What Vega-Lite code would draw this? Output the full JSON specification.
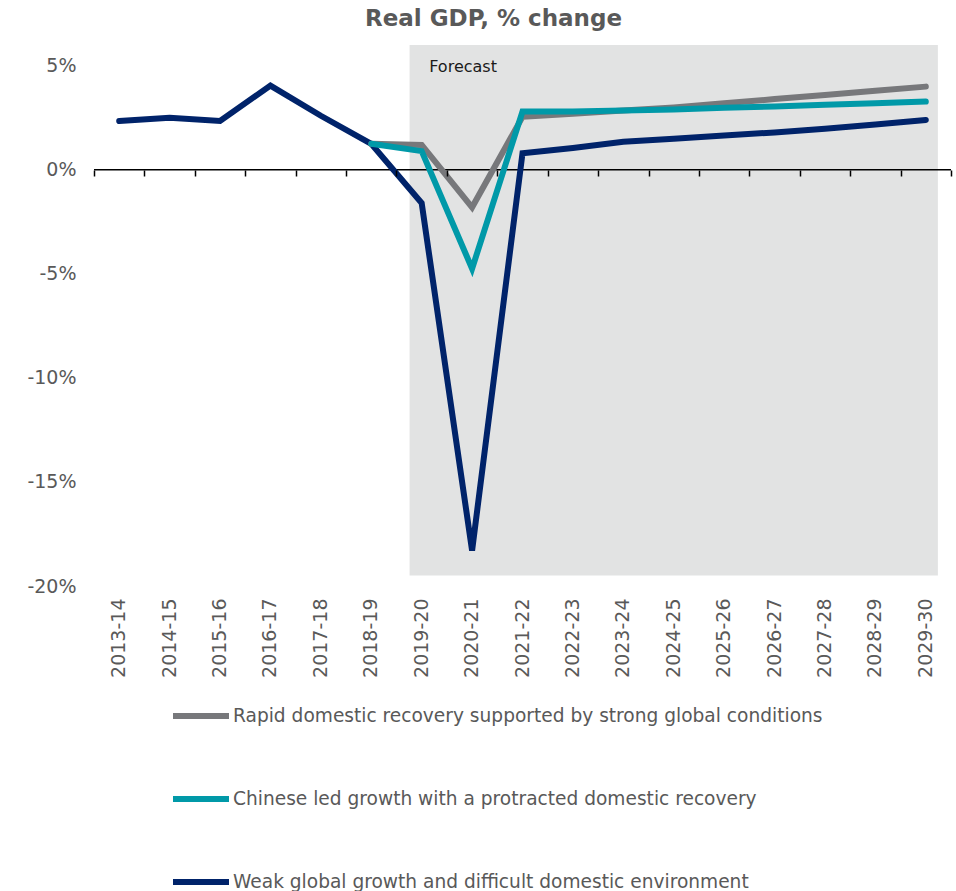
{
  "$schema": "https://vega.github.io/schema/vega-lite/v6.json",
  "autosize": {"type": "none"},
  "padding": {"left": 94, "top": 45, "right": 5, "bottom": 305},
  "width": 857,
  "height": 541,
  "background": "white",
  "config": {
    "font": "DejaVu Sans",
    "view": {"stroke": null},
    "axis": {"grid": false, "labelColor": "#595959", "labelFont": "DejaVu Sans"}
  },
  "title": {
    "text": "Real GDP, % change",
    "fontSize": 23,
    "fontWeight": "bold",
    "color": "#595959",
    "anchor": "middle",
    "dx": -29,
    "offset": 14
  },
  "datasets": {
    "gdp": [
      {"period": "2013-14", "scenario": "Weak global growth and difficult domestic environment", "value": 2.35},
      {"period": "2014-15", "scenario": "Weak global growth and difficult domestic environment", "value": 2.5},
      {"period": "2015-16", "scenario": "Weak global growth and difficult domestic environment", "value": 2.35},
      {"period": "2016-17", "scenario": "Weak global growth and difficult domestic environment", "value": 4.05},
      {"period": "2017-18", "scenario": "Weak global growth and difficult domestic environment", "value": 2.6},
      {"period": "2018-19", "scenario": "Rapid domestic recovery supported by strong global conditions", "value": 1.25},
      {"period": "2019-20", "scenario": "Rapid domestic recovery supported by strong global conditions", "value": 1.2},
      {"period": "2020-21", "scenario": "Rapid domestic recovery supported by strong global conditions", "value": -1.8},
      {"period": "2021-22", "scenario": "Rapid domestic recovery supported by strong global conditions", "value": 2.55},
      {"period": "2022-23", "scenario": "Rapid domestic recovery supported by strong global conditions", "value": 2.7},
      {"period": "2023-24", "scenario": "Rapid domestic recovery supported by strong global conditions", "value": 2.85},
      {"period": "2024-25", "scenario": "Rapid domestic recovery supported by strong global conditions", "value": 3.0},
      {"period": "2025-26", "scenario": "Rapid domestic recovery supported by strong global conditions", "value": 3.2},
      {"period": "2026-27", "scenario": "Rapid domestic recovery supported by strong global conditions", "value": 3.4},
      {"period": "2027-28", "scenario": "Rapid domestic recovery supported by strong global conditions", "value": 3.6},
      {"period": "2028-29", "scenario": "Rapid domestic recovery supported by strong global conditions", "value": 3.8},
      {"period": "2029-30", "scenario": "Rapid domestic recovery supported by strong global conditions", "value": 4.0},
      {"period": "2018-19", "scenario": "Chinese led growth with a protracted domestic recovery", "value": 1.25},
      {"period": "2019-20", "scenario": "Chinese led growth with a protracted domestic recovery", "value": 0.9},
      {"period": "2020-21", "scenario": "Chinese led growth with a protracted domestic recovery", "value": -4.75},
      {"period": "2021-22", "scenario": "Chinese led growth with a protracted domestic recovery", "value": 2.8},
      {"period": "2022-23", "scenario": "Chinese led growth with a protracted domestic recovery", "value": 2.8},
      {"period": "2023-24", "scenario": "Chinese led growth with a protracted domestic recovery", "value": 2.85},
      {"period": "2024-25", "scenario": "Chinese led growth with a protracted domestic recovery", "value": 2.9},
      {"period": "2025-26", "scenario": "Chinese led growth with a protracted domestic recovery", "value": 2.98},
      {"period": "2026-27", "scenario": "Chinese led growth with a protracted domestic recovery", "value": 3.05},
      {"period": "2027-28", "scenario": "Chinese led growth with a protracted domestic recovery", "value": 3.13},
      {"period": "2028-29", "scenario": "Chinese led growth with a protracted domestic recovery", "value": 3.2},
      {"period": "2029-30", "scenario": "Chinese led growth with a protracted domestic recovery", "value": 3.28},
      {"period": "2018-19", "scenario": "Weak global growth and difficult domestic environment", "value": 1.25},
      {"period": "2019-20", "scenario": "Weak global growth and difficult domestic environment", "value": -1.6},
      {"period": "2020-21", "scenario": "Weak global growth and difficult domestic environment", "value": -18.3},
      {"period": "2021-22", "scenario": "Weak global growth and difficult domestic environment", "value": 0.8},
      {"period": "2022-23", "scenario": "Weak global growth and difficult domestic environment", "value": 1.05},
      {"period": "2023-24", "scenario": "Weak global growth and difficult domestic environment", "value": 1.35},
      {"period": "2024-25", "scenario": "Weak global growth and difficult domestic environment", "value": 1.5},
      {"period": "2025-26", "scenario": "Weak global growth and difficult domestic environment", "value": 1.65},
      {"period": "2026-27", "scenario": "Weak global growth and difficult domestic environment", "value": 1.8},
      {"period": "2027-28", "scenario": "Weak global growth and difficult domestic environment", "value": 1.98},
      {"period": "2028-29", "scenario": "Weak global growth and difficult domestic environment", "value": 2.18},
      {"period": "2029-30", "scenario": "Weak global growth and difficult domestic environment", "value": 2.4}
    ],
    "forecast": [
      {"start": "2019-20", "end": "2029-30", "label": "Forecast", "top": 6, "bottom": -19.5, "labelY": 4.7}
    ]
  },
  "resolve": {"axis": {"x": "independent"}},
  "layer": [
    {
      "data": {"name": "forecast"},
      "mark": {"type": "rect", "color": "#e2e3e3"},
      "encoding": {
        "x": {"field": "start", "type": "ordinal", "bandPosition": 0.26, "axis": null},
        "x2": {"field": "end", "bandPosition": 0.74},
        "y": {"field": "top", "type": "quantitative",
          "axis": {"title": null, "values": [-20, -15, -10, -5, 0, 5], "labelExpr": "datum.value + '%'", "labelFontSize": 19, "labelPadding": 18, "ticks": false, "domain": false}},
        "y2": {"field": "bottom"}
      }
    },
    {
      "data": {"name": "forecast"},
      "mark": {"type": "rule", "color": "#000000", "strokeWidth": 1.5},
      "encoding": {
        "y": {"datum": 0, "type": "quantitative"}
      }
    },
    {
      "data": {"name": "forecast"},
      "mark": {"type": "text", "align": "left", "baseline": "alphabetic", "fontSize": 16, "color": "#1a1a1a"},
      "encoding": {
        "text": {"field": "label"},
        "x": {"field": "start", "type": "ordinal", "bandPosition": 0.65,
          "axis": {"orient": "bottom", "offset": -416, "labels": false, "domain": false, "ticks": true, "tickBand": "extent", "tickSize": 6, "tickColor": "#000000", "tickWidth": 1.5, "title": null, "zindex": 1}},
        "y": {"field": "labelY", "type": "quantitative"}
      }
    },
    {
      "data": {"name": "gdp"},
      "mark": {"type": "line", "strokeWidth": 6, "strokeCap": "round"},
      "encoding": {
        "x": {"field": "period", "type": "ordinal", "bandPosition": 0.5,
          "scale": {"type": "band", "paddingInner": 0, "paddingOuter": 0},
          "axis": {"orient": "bottom", "title": null, "labelAngle": -90, "labelFontSize": 19, "labelPadding": 12, "ticks": false, "domain": false}},
        "y": {"field": "value", "type": "quantitative",
          "scale": {"domain": [-20, 6], "nice": false, "zero": false}},
        "color": {"field": "scenario", "type": "nominal",
          "scale": {"domain": ["Rapid domestic recovery supported by strong global conditions", "Chinese led growth with a protracted domestic recovery", "Weak global growth and difficult domestic environment"],
            "range": ["#77787b", "#0099a8", "#00236a"]},
          "legend": {"orient": "none", "legendX": 76, "legendY": 640, "direction": "vertical", "title": null,
            "symbolType": "stroke", "symbolSize": 3136, "symbolStrokeWidth": 6, "labelFontSize": 18.6, "labelColor": "#595959", "labelOffset": 1, "rowPadding": 40, "labelLimit": 800}}
      }
    }
  ]
}
